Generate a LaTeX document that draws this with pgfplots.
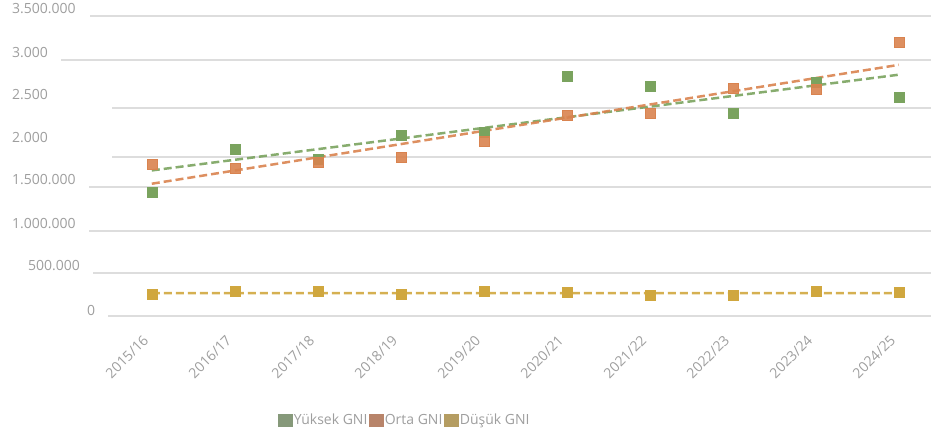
\documentclass[border=0pt]{standalone}
\usepackage{fontspec}
\setmainfont{Open Sans}
\usepackage{pgfplots}
\usepackage{pgfplotstable}
\pgfplotsset{compat=1.18}
\definecolor{cgreen}{HTML}{7AA35E}
\definecolor{corange}{HTML}{D9834F}
\definecolor{cyellow}{HTML}{D0A73E}
\definecolor{lgreen}{HTML}{86997A}
\definecolor{lorange}{HTML}{B8846A}
\definecolor{lyellow}{HTML}{B59D62}
\definecolor{txt}{HTML}{9E9E9E}
\definecolor{gridc}{HTML}{DDDDDD}

\pgfplotstableread{
x G O D
0 1438500 1773300 248500
1 1940000 1718500 283500
2 1828000 1793200 283500
3 2111700 1846800 248500
4 2146700 2041700 283500
5 2791800 2336800 280000
6 2675000 2360200 245000
7 2360000 2651800 245000
8 2726500 2644800 283500
9 2546800 3196700 271800
}\data

\begin{document}
\begin{tikzpicture}[x=1bp,y=1bp,font=\fontsize{14bp}{16bp}\selectfont]
% gridlines
\draw[gridc, line width=1.3bp] (90,421)--(931,421);
\draw[gridc, line width=1.3bp] (61,377)--(931,377);
\draw[gridc, line width=1.3bp] (112,329)--(931,329);
\draw[gridc, line width=1.3bp] (112,280)--(931,280);
\draw[gridc, line width=1.3bp] (89,250)--(931,250);
\draw[gridc, line width=1.3bp] (89,206)--(931,206);
\draw[gridc, line width=1.3bp] (93,164)--(931,164);
\draw[gridc, line width=1.3bp] (108,121)--(931,121);
\begin{axis}[
  at={(0,0)}, anchor=south west,
  scale only axis, width=931bp, height=437bp,
  xmin=-1.82892, xmax=9.38795,
  ymin=-1411667, ymax=3686667,
  axis line style={draw=none},
  major tick length=0pt,
  ytick=\empty,
  xtick={0,...,9},
  xticklabels={2015/16,2016/17,2017/18,2018/19,2019/20,2020/21,2021/22,2022/23,2023/24,2024/25},
  xticklabel style={yshift=99bp, xshift=-6bp, rotate=45, anchor=east, inner sep=0pt, text=txt, font=\fontsize{14bp}{16bp}\selectfont},
  clip=false,
  legend columns=3,
  legend cell align=left,
  legend style={at={(rel axis cs:0.2986,0.0389)}, anchor=west, draw=none, fill=none,
    inner sep=0pt, outer sep=0pt, text=txt, font=\fontsize{14bp}{16bp}\selectfont,
    /tikz/every even column/.style={column sep=0pt},
    nodes={inner sep=1.5bp}},
]
\addplot[only marks, mark=square*, mark size=5bp, color=cgreen, mark options={draw=none, fill=cgreen}, forget plot] table[x=x,y=G]{\data};
\addplot[only marks, mark=square*, mark size=5bp, color=corange, mark options={draw=none, fill=corange, fill opacity=0.9}, forget plot] table[x=x,y=O]{\data};
\addplot[only marks, mark=square*, mark size=5bp, color=cyellow, mark options={draw=none, fill=cyellow}, forget plot] table[x=x,y=D]{\data};
\addplot[cgreen, no marks, line width=2.5bp, dash pattern=on 8bp off 4bp, opacity=0.9, forget plot] table[x=x, y={create col/linear regression={y=G}}]{\data};
\addplot[corange, no marks, line width=2.5bp, dash pattern=on 8bp off 4bp, opacity=0.9, forget plot] table[x=x, y={create col/linear regression={y=O}}]{\data};
\addplot[cyellow, no marks, line width=2.5bp, dash pattern=on 8bp off 4bp, opacity=0.9, forget plot] table[x=x, y={create col/linear regression={y=D}}]{\data};
\addlegendimage{legend image code/.code={\fill[lgreen] (0bp,-6bp) rectangle (14bp,6bp);}}
\addlegendentry{Yüksek GNI}
\addlegendimage{legend image code/.code={\fill[lorange] (0bp,-6bp) rectangle (14bp,6bp);}}
\addlegendentry{Orta GNI}
\addlegendimage{legend image code/.code={\fill[lyellow] (0bp,-6bp) rectangle (14bp,6bp);}}
\addlegendentry{Düşük GNI}
\end{axis}
\node[anchor=west, text=txt, inner sep=0pt] at (12,428) {3.500.000};
\node[anchor=west, text=txt, inner sep=0pt] at (12,384) {3.000};
\node[anchor=west, text=txt, inner sep=0pt] at (12,342) {2.500};
\node[anchor=west, text=txt, inner sep=0pt] at (12,299) {2.000};
\node[anchor=west, text=txt, inner sep=0pt] at (12,257) {1.500.000};
\node[anchor=west, text=txt, inner sep=0pt] at (12,213) {1.000.000};
\node[anchor=west, text=txt, inner sep=0pt] at (28,171) {500.000};
\node[anchor=west, text=txt, inner sep=0pt] at (87,127) {0};
\pgfresetboundingbox
\useasboundingbox (0,0) rectangle (931,437);
\end{tikzpicture}
\end{document}
